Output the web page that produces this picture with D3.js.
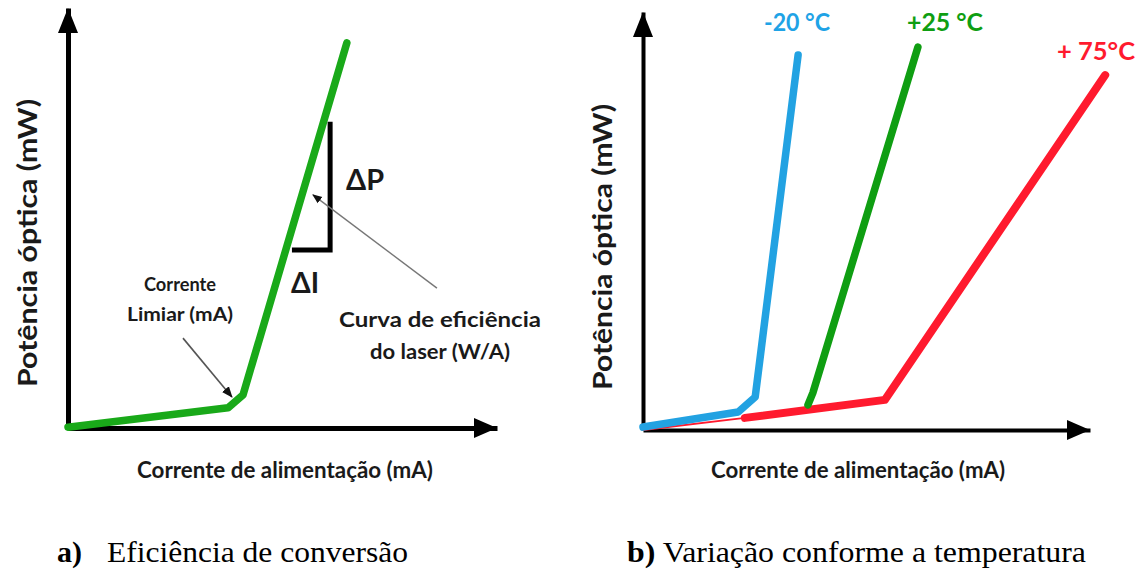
<!DOCTYPE html>
<html><head><meta charset="utf-8">
<script src="https://cdn.jsdelivr.net/npm/d3@7/dist/d3.min.js"></script>
<style>
html,body{margin:0;padding:0;background:#fff;}
svg{display:block;}
.lbl{font-family:Lato,"Open Sans",sans-serif;font-weight:700;fill:#1a1a1a;}
.cap{font-family:"Liberation Serif","Times New Roman",serif;fill:#000;}
</style></head>
<body>
<svg id="chart" width="1142" height="571"></svg>
<script>
// ---- data (abstract units: current 0-100, optical power 0-100) ----
const leftCurveI = [0, 37.3, 40.8, 65.0];
const leftCurveP = [0.2, 4.8, 7.9, 91.7];

const seriesNames = ["+ 75°C", "+25 °C", "-20 °C"];
const red75I = [0, 22.8, 54.1, 103.4];
const red75P = [0, 2.9, 7.2, 84.9];
const green25I = [36.9, 38.0, 61.5];
const green25P = [6.0, 8.9, 91.6];
const blue20I = [0, 21.3, 25.1, 34.7];
const blue20P = [0.7, 4.3, 7.9, 89.7];

const yTitle = "Potência óptica (mW)";
const xTitle = "Corrente de alimentação (mA)";

const svg = d3.select("#chart");
const zip = (a, b) => a.map((v, i) => [v, b[i]]);

function drawAxes(g, x, y, w) {
  const ax = g.append("g").attr("transform", `translate(0,${y.range()[0]})`)
    .call(d3.axisBottom(x).tickValues([]).tickSizeOuter(0));
  ax.select(".domain").attr("stroke", "#000").attr("stroke-width", w);
  const ay = g.append("g").attr("transform", `translate(${x.range()[0]},0)`)
    .call(d3.axisLeft(y).tickValues([]).tickSizeOuter(0));
  ay.select(".domain").attr("stroke", "#000").attr("stroke-width", w);
  const x0 = x.range()[0], x1 = x.range()[1], y0 = y.range()[0], y1 = y.range()[1];
  g.append("path").attr("d", `M${x1},${y0} L${x1-23},${y0-10} L${x1-23},${y0+10} Z`).attr("fill", "#000");
  g.append("path").attr("d", `M${x0},${y1} L${x0-10},${y1+25} L${x0+10},${y1+25} Z`).attr("fill", "#000");
}

// ================= LEFT PANEL =================
const xL = d3.scaleLinear().domain([0, 100]).range([68, 497]);
const yL = d3.scaleLinear().domain([0, 100]).range([428, 8]);
const gL = svg.append("g");
drawAxes(gL, xL, yL, 5);

const line = (x, y) => d3.line().x(d => x(d[0])).y(d => y(d[1]));

gL.append("path").datum(zip(leftCurveI, leftCurveP))
  .attr("d", line(xL, yL)).attr("fill", "none").attr("stroke", "#19a919")
  .attr("stroke-width", 7.5).attr("stroke-linecap", "round").attr("stroke-linejoin", "round");

const bracket = [[52.2, 42.4], [61.1, 42.4], [61.1, 72.9]];
gL.append("path").datum(bracket).attr("d", line(xL, yL)).attr("fill", "none")
  .attr("stroke", "#000").attr("stroke-width", 5).attr("stroke-linejoin", "miter");

const defs = svg.append("defs");
defs.append("marker").attr("id", "ah").attr("viewBox", "0 0 10 10").attr("refX", 9).attr("refY", 5)
  .attr("markerWidth", 7).attr("markerHeight", 7).attr("orient", "auto")
  .append("path").attr("d", "M0,1 L10,5 L0,9 Z").attr("fill", "#111");
function annArrow(p0, p1, col, w) {
  gL.append("line").attr("x1", xL(p0[0])).attr("y1", yL(p0[1])).attr("x2", xL(p1[0])).attr("y2", yL(p1[1]))
    .attr("stroke", col).attr("stroke-width", w).attr("marker-end", "url(#ah)");
}
annArrow([26.8, 21.4], [38.2, 7.4], "#555", 1.6);
annArrow([86.0, 33.3], [57.1, 55.5], "#777", 1.4);

function txt(x, y, s, size, len, anchor, cls, rot) {
  const t = svg.append("text").attr("class", cls || "lbl").attr("x", x).attr("y", y)
    .attr("font-size", size).attr("text-anchor", anchor || "middle").text(s);
  if (len) t.attr("textLength", len).attr("lengthAdjust", "spacingAndGlyphs");
  if (rot) t.attr("transform", `rotate(-90,${x},${y})`);
  return t;
}
txt(37, 243, yTitle, 27, 288, "middle", "lbl", true);
txt(285, 478, xTitle, 22, 296);
txt(180, 291, "Corrente", 18.5, 72);
txt(180, 321, "Limiar (mA)", 18.5, 106);
txt(440, 327, "Curva de eficiência", 21, 202);
txt(440, 359, "do laser (W/A)", 21, 140);
txt(346, 190, "ΔP", 29, 38, "start");
txt(291, 293, "ΔI", 29, 28, "start");

// ================= RIGHT PANEL =================
const xR = d3.scaleLinear().domain([0, 100]).range([643, 1090]);
const yR = d3.scaleLinear().domain([0, 100]).range([430, 12]);
const gR = svg.append("g");
drawAxes(gR, xR, yR, 4);

const redPts = zip(red75I, red75P);
gR.append("path").datum(redPts.slice(0, 2)).attr("d", line(xR, yR)).attr("fill", "none")
  .attr("stroke", "#ff1a2e").attr("stroke-width", 2);
gR.append("path").datum(redPts.slice(1)).attr("d", line(xR, yR)).attr("fill", "none")
  .attr("stroke", "#ff1a2e").attr("stroke-width", 8).attr("stroke-linecap", "round").attr("stroke-linejoin", "round");
gR.append("path").datum(zip(green25I, green25P)).attr("d", line(xR, yR)).attr("fill", "none")
  .attr("stroke", "#0f9e12").attr("stroke-width", 7.5).attr("stroke-linecap", "round").attr("stroke-linejoin", "round");
gR.append("path").datum(zip(blue20I, blue20P)).attr("d", line(xR, yR)).attr("fill", "none")
  .attr("stroke", "#22a2e2").attr("stroke-width", 7.5).attr("stroke-linecap", "round").attr("stroke-linejoin", "round");

txt(797, 31, seriesNames[2], 25, 66).style("fill", "#1fa3e6");
txt(945, 31, seriesNames[1], 25, 76).style("fill", "#0f9e12");
txt(1096, 60, seriesNames[0], 25, 78).style("fill", "#ff1a2e");

txt(612, 247, yTitle, 27, 286, "middle", "lbl", true);
txt(858, 478, xTitle, 22, 294);

// ================= CAPTIONS =================
const capA = svg.append("text").attr("class", "cap").attr("x", 57).attr("y", 562).attr("font-size", 30);
capA.append("tspan").attr("font-weight", "bold").text("a)");
capA.append("tspan").attr("x", 107).attr("textLength", 301).attr("lengthAdjust", "spacingAndGlyphs").text("Eficiência de conversão");
const capB = svg.append("text").attr("class", "cap").attr("x", 627).attr("y", 562).attr("font-size", 30)
  .attr("textLength", 459).attr("lengthAdjust", "spacingAndGlyphs");
capB.append("tspan").attr("font-weight", "bold").text("b)");
capB.append("tspan").text(" Variação conforme a temperatura");
</script>
</body></html>
